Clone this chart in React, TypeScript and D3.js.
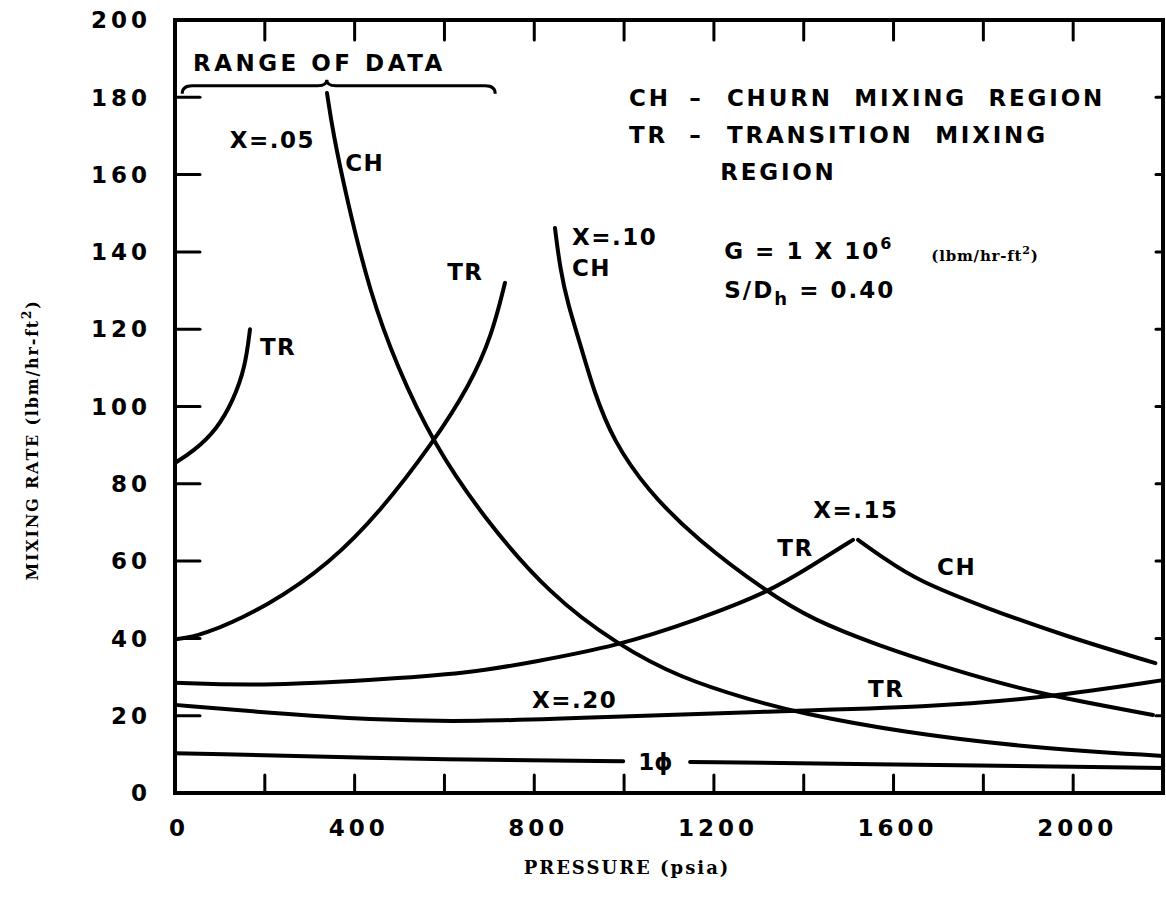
import React, { useRef, useEffect } from "react";
import * as d3 from "d3";

type Pt = [number, number];

// axis values
const xTickLabels = [0, 400, 800, 1200, 1600, 2000];
const xTickMarks = [200, 400, 600, 800, 1000, 1200, 1400, 1600, 1800, 2000];
const yTickLabels = [0, 20, 40, 60, 80, 100, 120, 140, 160, 180, 200];

// curves: [pressure psia, mixing rate]
const tr05: Pt[] = [[0, 85.4], [40, 88.3], [93, 94], [130, 101.7], [156, 110], [167, 120]];
const ch05: Pt[] = [
  [338.5, 181.1], [351.8, 170.8], [383, 153.4], [434.2, 129.4], [494.3, 110.3], [574.5, 90.6],
  [685.8, 71.4], [835, 51.2], [986.4, 38.3], [1124.5, 29.8], [1280.4, 24.1], [1391.7, 20.7],
  [1614.4, 15.8], [1910.5, 11.6], [2200, 9.6],
];
const tr10: Pt[] = [
  [0, 39.8], [55.7, 40.4], [211.5, 48.6], [345.1, 59.5], [456.5, 72.7], [574.5, 90.6],
  [656.9, 105.6], [705.9, 118.5], [734.8, 132],
];
const ch10: Pt[] = [
  [846.1, 146.2], [857.3, 135.8], [875.1, 126.3], [901.8, 116.4], [933, 103.8], [975.3, 91.3],
  [1051, 78.4], [1162.4, 65.5], [1318.2, 52], [1420.6, 44.8], [1563.1, 38.3], [1725.7, 32.1],
  [1910.5, 25.9], [2177.7, 20.2],
];
const tr15: Pt[] = [
  [0, 28.5], [189.3, 27.7], [434.2, 29.2], [656.9, 31], [797.2, 33.9], [984.2, 38],
  [1162.4, 44.8], [1322.7, 52], [1420.6, 59], [1509.7, 65.5],
];
const ch15: Pt[] = [[1521, 65.5], [1585, 60.2], [1652, 55.1], [1800, 48.1], [1987, 40.4], [2183, 33.6]];
const tr20: Pt[] = [
  [0, 22.8], [211, 20.7], [434, 18.9], [657, 18.4], [984, 19.7], [1280, 21], [1688, 22.2],
  [1948, 24.8], [2200, 29.2],
];
const phaseLeft: Pt[] = [[0, 10.3], [657, 8.5], [998, 8.2]];
const phaseRight: Pt[] = [[1147, 8.05], [1500, 7.5], [2200, 6.5]];

const rangeOfData: Pt = [16, 713];

// labels on the plot: text, pressure, rate
const curveLabels: [string, number, number][] = [
  ["X=.05", 122, 169],
  ["CH", 379, 163],
  ["TR", 189, 115.4],
  ["TR", 606, 134.8],
  ["X=.10", 884, 143.9],
  ["CH", 884, 135.8],
  ["X=.15", 1421, 73.2],
  ["TR", 1341, 63.4],
  ["CH", 1697, 58.5],
  ["TR", 1543, 26.9],
  ["X=.20", 795, 24.1],
];
const legendRows: [string, string, number][] = [
  ["CH", "CHURN  MIXING  REGION", 179.8],
  ["TR", "TRANSITION  MIXING", 170.2],
  ["", "REGION", 160.7],
];

const LETTER = "'DejaVu Sans', Verdana, sans-serif";
const SERIF = "'DejaVu Serif', 'Liberation Serif', serif";

const Chart = () => {
  const width = 1166;
  const height = 905;
  const svgRef = useRef<SVGSVGElement>(null);

  useEffect(() => {
    const svg = d3.select(svgRef.current);
    svg.selectAll("*").remove();

    const x = d3.scaleLinear([0, 2200], [175, 1163]);
    const y = d3.scaleLinear([0, 200], [793, 20]);

    svg.append("rect").attr("width", width).attr("height", height).attr("fill", "white");

    // frame
    svg
      .append("rect")
      .attr("x", x(0))
      .attr("y", y(200))
      .attr("width", x(2200) - x(0))
      .attr("height", y(0) - y(200))
      .attr("fill", "none")
      .attr("stroke", "black")
      .attr("stroke-width", 4);

    // inner ticks
    const ticks = svg.append("g").attr("stroke", "black").attr("stroke-width", 3).attr("stroke-linecap", "round");
    ticks
      .selectAll(".tb")
      .data(xTickMarks)
      .join("line")
      .attr("x1", (d) => x(d))
      .attr("x2", (d) => x(d))
      .attr("y1", y(0))
      .attr("y2", y(0) - 18);
    ticks
      .selectAll(".tt")
      .data(xTickMarks)
      .join("line")
      .attr("x1", (d) => x(d))
      .attr("x2", (d) => x(d))
      .attr("y1", y(200))
      .attr("y2", y(200) + 20);
    ticks
      .selectAll(".tl")
      .data(yTickLabels.filter((d) => d > 0 && d < 200))
      .join("line")
      .attr("x1", x(0))
      .attr("x2", x(0) + 25)
      .attr("y1", (d) => y(d))
      .attr("y2", (d) => y(d));
    ticks
      .selectAll(".tr")
      .data(yTickLabels.filter((d) => d > 0 && d < 200))
      .join("line")
      .attr("x1", x(2200))
      .attr("x2", x(2200) - 7)
      .attr("y1", (d) => y(d))
      .attr("y2", (d) => y(d));

    // tick labels
    svg
      .append("g")
      .selectAll("text")
      .data(yTickLabels)
      .join("text")
      .attr("x", 151)
      .attr("y", (d) => y(d))
      .attr("dy", "0.36em")
      .attr("text-anchor", "end")
      .attr("font-family", LETTER)
      .attr("font-weight", "bold")
      .attr("font-size", 23)
      .attr("letter-spacing", 4)
      .text((d) => d);

    svg
      .append("g")
      .selectAll("text")
      .data(xTickLabels)
      .join("text")
      .attr("x", (d) => x(d) + 4)
      .attr("y", 828)
      .attr("dy", "0.36em")
      .attr("text-anchor", "middle")
      .attr("font-family", LETTER)
      .attr("font-weight", "bold")
      .attr("font-size", 23)
      .attr("letter-spacing", 4)
      .text((d) => d);

    // axis titles
    svg
      .append("text")
      .attr("x", 627)
      .attr("y", 868)
      .attr("dy", "0.35em")
      .attr("text-anchor", "middle")
      .attr("font-family", SERIF)
      .attr("font-weight", "bold")
      .attr("font-size", 18)
      .attr("letter-spacing", 2)
      .text("PRESSURE (psia)");

    const yTitle = svg
      .append("text")
      .attr("transform", "translate(32,440) rotate(-90)")
      .attr("dy", "0.35em")
      .attr("text-anchor", "middle")
      .attr("font-family", SERIF)
      .attr("font-weight", "bold")
      .attr("font-size", 16)
      .attr("letter-spacing", 1.8);
    yTitle.append("tspan").text("MIXING RATE (lbm/hr-ft");
    yTitle.append("tspan").attr("dy", -7).attr("font-size", 12).text("2");
    yTitle.append("tspan").attr("dy", 7).text(")");

    // curves
    const line = d3
      .line<Pt>()
      .x((d) => x(d[0]))
      .y((d) => y(d[1]))
      .curve(d3.curveBasis);

    svg
      .append("g")
      .selectAll("path")
      .data([tr05, ch05, tr10, ch10, tr15, ch15, tr20, phaseLeft, phaseRight])
      .join("path")
      .attr("d", (d) => line(d))
      .attr("fill", "none")
      .attr("stroke", "black")
      .attr("stroke-width", 4)
      .attr("stroke-linecap", "round");

    // range of data brace
    const bx0 = x(rangeOfData[0]);
    const bx1 = x(rangeOfData[1]);
    const bm = x(338);
    const by = y(183);
    const p = d3.path();
    p.moveTo(bx0, by + 8);
    p.quadraticCurveTo(bx0, by, bx0 + 10, by);
    p.lineTo(bm - 9, by);
    p.quadraticCurveTo(bm, by, bm, by - 6);
    p.quadraticCurveTo(bm, by, bm + 9, by);
    p.lineTo(bx1 - 10, by);
    p.quadraticCurveTo(bx1, by, bx1, by + 8);
    svg
      .append("path")
      .attr("d", p.toString())
      .attr("fill", "none")
      .attr("stroke", "black")
      .attr("stroke-width", 3);

    svg
      .append("text")
      .attr("x", x(40))
      .attr("y", y(189))
      .attr("dy", "0.36em")
      .attr("font-family", LETTER)
      .attr("font-weight", "bold")
      .attr("font-size", 23)
      .attr("letter-spacing", 3.5)
      .text("RANGE OF DATA");

    // curve labels
    svg
      .append("g")
      .selectAll("text")
      .data(curveLabels)
      .join("text")
      .attr("x", (d) => x(d[1]))
      .attr("y", (d) => y(d[2]))
      .attr("dy", "0.36em")
      .attr("font-family", LETTER)
      .attr("font-weight", "bold")
      .attr("font-size", 23)
      .attr("letter-spacing", 1.5)
      .text((d) => d[0]);

    // single phase label
    svg
      .append("text")
      .attr("x", x(1070))
      .attr("y", y(8))
      .attr("dy", "0.36em")
      .attr("text-anchor", "middle")
      .attr("font-family", LETTER)
      .attr("font-weight", "bold")
      .attr("font-size", 23)
      .text("1\u03D5");

    // legend block
    const legend = svg
      .append("g")
      .attr("font-family", LETTER)
      .attr("font-weight", "bold")
      .attr("font-size", 23)
      .attr("letter-spacing", 2.8);
    legendRows.forEach(([abbr, desc, w]) => {
      if (abbr) {
        legend.append("text").attr("x", x(1011)).attr("y", y(w)).attr("dy", "0.36em").text(abbr);
        legend.append("text").attr("x", x(1145)).attr("y", y(w)).attr("dy", "0.36em").text("\u2013");
      }
      legend
        .append("text")
        .attr("x", x(abbr ? 1229 : 1214))
        .attr("y", y(w))
        .attr("dy", "0.36em")
        .style("white-space", "pre")
        .text(desc);
    });

    const g = legend.append("text").attr("x", x(1223)).attr("y", y(140.2)).attr("dy", "0.36em").attr("letter-spacing", 2);
    g.append("tspan").text("G = 1 X 10");
    g.append("tspan").attr("dy", -10).attr("font-size", 16).text("6");
    const unit = legend
      .append("text")
      .attr("x", x(1684))
      .attr("y", y(139))
      .attr("dy", "0.36em")
      .attr("font-family", SERIF)
      .attr("font-size", 15)
      .attr("letter-spacing", 0.8);
    unit.append("tspan").text("(lbm/hr-ft");
    unit.append("tspan").attr("dy", -7).attr("font-size", 11).text("2");
    unit.append("tspan").attr("dy", 7).text(")");

    const s = legend.append("text").attr("x", x(1223)).attr("y", y(130.1)).attr("dy", "0.36em").attr("letter-spacing", 2);
    s.append("tspan").text("S/D");
    s.append("tspan").attr("dy", 7).attr("font-size", 18).text("h");
    s.append("tspan").attr("dy", -7).text(" = 0.40");
  }, []);

  return (
    <svg
      width={width}
      height={height}
      ref={svgRef}
      style={{ position: "absolute", left: 0, top: 0, background: "white" }}
    />
  );
};

export default function App() {
  return <Chart />;
}
